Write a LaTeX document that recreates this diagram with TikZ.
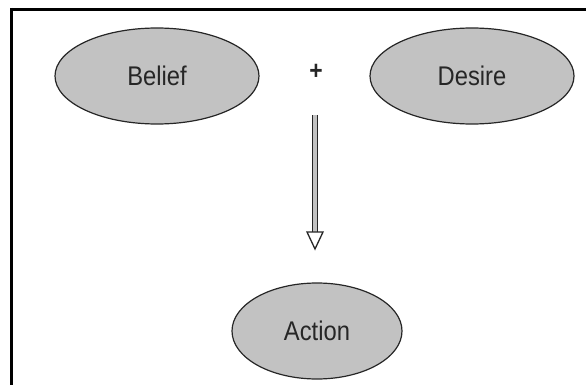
\documentclass[tikz,border=0pt]{standalone}
\usepackage{fontspec}
\newfontfamily\labelfont[FakeStretch=0.88]{Liberation Sans}
\usetikzlibrary{shapes.geometric,calc}
\definecolor{blobfill}{HTML}{C2C2C2}
\definecolor{inkgray}{HTML}{262626}
\tikzset{
  blob/.style={ellipse, draw=inkgray, line width=1.2pt, fill=blobfill,
    font=\labelfont\fontsize{27}{27}\selectfont, text=inkgray, inner sep=0pt},
  frameline/.style={line width=3pt, black},
}
\begin{document}
\begin{tikzpicture}[x=1pt,y=-1pt]
\useasboundingbox (0,0) rectangle (586,385);
\draw[frameline] (10,9.5) -- (586,9.5);
\draw[frameline] (11.5,8) -- (11.5,385);
\node[blob, minimum width=204pt, minimum height=96pt] (belief) at (157,76) {Belief};
\node[blob, minimum width=204pt, minimum height=96pt] (desire) at (472,76) {Desire};
\node[blob, minimum width=170pt, minimum height=96pt] (action) at (317,331) {Action};
\node[font=\labelfont\bfseries\fontsize{26}{26}\selectfont, text=inkgray] (plus) at (316,72) {+};
\coordinate (shafttop) at (315,115);
\coordinate (headbase) at (315,232);
\coordinate (tip) at (315,249);
\draw[line width=1.1pt, inkgray, double=blobfill, double distance=3.4pt] (shafttop) -- (headbase);
\draw[line width=1.3pt, inkgray, fill=white, line join=miter]
  ($(headbase)+(-8,0)$) -- ($(headbase)+(8,0)$) -- (tip) -- cycle;
\end{tikzpicture}
\end{document}
